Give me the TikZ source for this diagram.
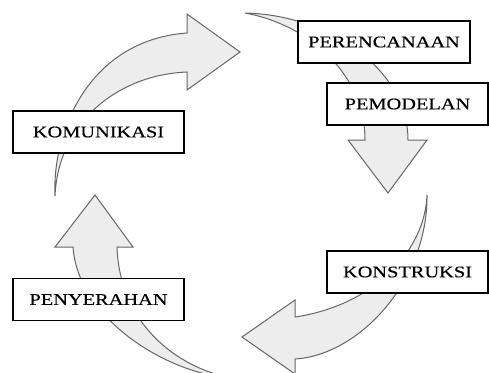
\documentclass[tikz,border=0pt]{standalone}
\usepackage{fontspec}
\setmainfont{Liberation Serif}[FakeStretch=1.25, FakeBold=0.4]
\usepackage{tikz}
\usetikzlibrary{positioning}

\tikzset{
    tahap/.style={
        rectangle,
        draw=black, line width=1.1pt,
        fill=white,
        minimum height=42pt,
        inner sep=0pt,
        font=\fontsize{16.3}{19}\selectfont,
        text centered
    },
    panah/.style={
        fill=black!7,
        draw=black!60,
        line width=1pt,
        line join=miter
    }
}

\begin{document}
\begin{tikzpicture}[x=1pt, y=-1pt]
    \useasboundingbox (0,0) rectangle (489,372);

    % panah siklus
    \draw[panah] (55,196) .. controls (52,130) and (90,40) .. (187,33)
        -- (187,14) -- (240,52) -- (187,90) -- (187,72)
        .. controls (115,75) and (58,125) .. (55,196) -- cycle;
    \draw[panah] (245,13) .. controls (330,15) and (408,70) .. (408,140)
        -- (427,140) -- (388,193) -- (348,140) -- (365,140)
        .. controls (365,75) and (310,25) .. (245,13) -- cycle;
    \draw[panah] (427,195) .. controls (428,280) and (360,355) .. (295,359)
        -- (295,374) -- (242,337) -- (295,300) -- (295,317)
        .. controls (375,305) and (425,250) .. (427,195) -- cycle;
    \draw[panah] (232,378) .. controls (170,375) and (78,320) .. (73,247)
        -- (55,247) -- (95,195) -- (133,247) -- (117,247)
        .. controls (120,330) and (185,370) .. (232,378) -- cycle;

    % kotak tahapan
    \node[tahap, minimum width=171pt] (komunikasi)  at (98.5,132)  {KOMUNIKASI};
    \node[tahap, minimum width=172pt] (perencanaan) at (384,42)    {PERENCANAAN};
    \node[tahap, minimum width=161pt] (pemodelan)   at (407.5,104) {PEMODELAN};
    \node[tahap, minimum width=161pt] (konstruksi)  at (407.5,272) {KONSTRUKSI};
    \node[tahap, minimum width=171pt] (penyerahan)  at (98.5,299.5) {PENYERAHAN};
\end{tikzpicture}
\end{document}
